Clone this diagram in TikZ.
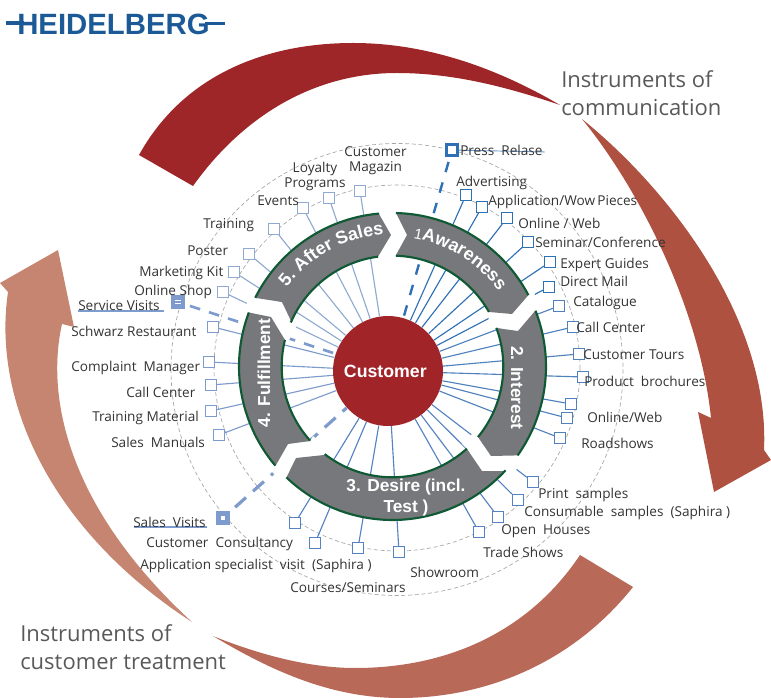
\documentclass[tikz,border=0pt]{standalone}
\usepackage{fontspec}
\setmainfont{Open Sans}
\newfontfamily\hvb{Liberation Sans}[BoldFont={Liberation Sans Bold}]
\usetikzlibrary{decorations.text}
\definecolor{logoblue}{HTML}{1B5A96}
\definecolor{arrA}{HTML}{9E2629}
\definecolor{arrB}{HTML}{AE5140}
\definecolor{arrC}{HTML}{B86957}
\definecolor{arrD}{HTML}{C58570}
\definecolor{ringgray}{HTML}{77787B}
\definecolor{ringgreen}{HTML}{0F5A34}
\definecolor{custred}{HTML}{A02428}
\definecolor{labc}{HTML}{333333}
\definecolor{headc}{HTML}{595959}
\definecolor{blA}{HTML}{2E70B4}
\definecolor{blB}{HTML}{4F81BD}
\definecolor{blC}{HTML}{5582C2}
\definecolor{blD}{HTML}{7D9BCC}
\definecolor{blE}{HTML}{8FAAD0}
\newcommand{\rp}[3]{plot[domain=#2:#3,samples=40,variable=\t] ({392.5+#1*cos(\t)},{366.5-#1*sin(\t)})}
\newcommand{\lrp}[3]{-- plot[domain=#2:#3,samples=40,variable=\t] ({392.5+#1*cos(\t)},{366.5-#1*sin(\t)})}
\tikzset{
 lab/.style={inner sep=0pt,anchor=west,text=labc,font=\fontsize{10.2}{11.25}\selectfont,text height=9pt,text depth=1pt},
 labm/.style={inner sep=0pt,text=labc,font=\fontsize{10.2}{11.25}\selectfont,align=center},
 head/.style={inner sep=0pt,anchor=west,text=headc,font=\fontsize{16.5}{20}\selectfont,text height=13.5pt,text depth=2pt},
 bx/.style={draw=#1,fill=white,line width=1.1pt,minimum size=8pt,inner sep=0pt,shape=rectangle},
 sp/.style={draw=#1,line width=0.85pt},
 dsh/.style={draw=#1,line width=2.4pt,dash pattern=on 11pt off 7pt,dash phase=13.5pt},
 dshb/.style={draw=#1,line width=2pt,dash pattern=on 8pt off 7pt,dash phase=11pt},
 dshc/.style={draw=#1,line width=1.8pt,dash pattern=on 8pt off 8pt,dash phase=12pt},
 guide/.style={draw=gray!70,line width=0.5pt,densely dashed},
 ringfill/.style={fill=ringgray},
 ringline/.style={draw=ringgreen,line width=1.6pt},
 gap/.style={fill=white},
 wlab/.style={inner sep=0pt,text=white,font=\hvb\bfseries\fontsize{13}{15.75}\selectfont,align=center},
}
\begin{document}
\begin{tikzpicture}[x=0.75pt,y=-0.75pt]
\useasboundingbox (0,0) rectangle (771,698);
% logo
\node[inner sep=0pt,text=logoblue,anchor=west] (logo) at (17,24) {\hvb\bfseries\fontsize{22}{22}\selectfont HEIDELBERG};
\fill[logoblue] (6,21.5) rectangle (24,25.5);
\fill[logoblue] (205,22) rectangle (225,25.5);
% big arrows
\fill[arrA] (139,155) .. controls (185,72) and (270,43) .. (353,43) .. controls (430,43) and (500,70) .. (560,105) .. controls (510,88) and (455,73) .. (397,73) .. controls (310,73) and (240,120) .. (193,186) -- cycle;
\fill[arrB] (582,119) .. controls (670,190) and (770,320) .. (764,450) -- (771,460) -- (714,492) -- (698,412) -- (711,418) .. controls (700,310) and (640,190) .. (582,119) -- cycle;
\fill[arrC] (213,636) .. controls (270,670) and (330,698) .. (400,698) .. controls (490,698) and (575,660) .. (633,587) -- (580,555) .. controls (530,630) and (450,668) .. (355,668) .. controls (310,668) and (260,655) .. (213,636) -- cycle;
\fill[arrD] (192,622) .. controls (50,530) and (-8,400) .. (8,292) -- (0,283) -- (58,250) -- (74,327) -- (62,324) .. controls (45,400) and (70,510) .. (192,622) -- cycle;
% guide circles
\draw[guide] (397,369.5) circle[radius=226];
\draw[guide] (397,368) circle[radius=183];
% centre
\node[circle,fill=custred,minimum size=82.5pt,inner sep=0pt,text=white,font=\hvb\bfseries\fontsize{13.3}{16}\selectfont] (cust) at (388,371) {\hspace*{-4pt}Customer};
% boxes: awareness
\node[bx=blA,line width=2.2pt,minimum size=8pt] (press) at (452,150) {};
\node[bx=blA] (a1) at (466,195) {};
\node[bx=blA] (a2) at (482,207) {};
\node[bx=blA] (a3) at (507,218) {};
\node[bx=blA] (a4) at (528,242) {};
\node[bx=blA] (a5) at (550,262) {};
\node[bx=blA] (a6) at (549,287) {};
% interest
\node[bx=blB] (i1) at (559,306) {};
\node[bx=blB] (i2) at (573,327) {};
\node[bx=blB] (i3) at (579,354) {};
\node[bx=blB] (i4) at (583,377) {};
\node[bx=blB] (i5) at (571,404) {};
\node[bx=blB] (i6) at (567,418) {};
\node[bx=blB] (i7) at (560,438) {};
% desire
\node[bx=blC] (d1) at (533,482) {};
\node[bx=blC] (d2) at (518,500) {};
\node[bx=blC] (d3) at (498,517) {};
\node[bx=blC] (d4) at (479,532) {};
\node[bx=blC] (d5) at (399,552) {};
\node[bx=blC] (d6) at (358,548) {};
\node[bx=blC] (d7) at (315,543) {};
\node[bx=blC] (d8) at (295,523) {};
\node[fill=blD,minimum size=11pt,inner sep=0pt] (sales) at (223,518) {};
% fulfillment
\node[bx=blD] (f1) at (219,435) {};
\node[bx=blD] (f2) at (211,411) {};
\node[bx=blD] (f3) at (211,385) {};
\node[bx=blD] (f4) at (209,362) {};
\node[bx=blD] (f5) at (213,327) {};
\node[fill=blD,minimum size=10pt,inner sep=0pt] (serv) at (178,302) {};
% after sales
\node[bx=blE] (s1) at (223,292) {};
\node[bx=blE] (s2) at (234,272) {};
\node[bx=blE] (s3) at (249,254) {};
\node[bx=blE] (s4) at (274,229) {};
\node[bx=blE] (s5) at (303,208) {};
\node[bx=blE] (s6) at (329,198) {};
\node[bx=blE] (s7) at (360,191) {};
% spokes
\foreach \b in {a1,a2,a3,a4,a5,a6} \draw[sp=blA] (cust) -- (\b);
\foreach \b in {i1,i2,i3,i4,i5,i6,i7} \draw[sp=blB] (cust) -- (\b);
\foreach \b in {d1,d2,d3,d4,d5,d6,d7,d8} \draw[sp=blC] (cust) -- (\b);
\foreach \b in {f1,f2,f3,f4,f5} \draw[sp=blD] (cust) -- (\b);
\foreach \b in {s1,s2,s3,s4,s5,s6,s7} \draw[sp=blE] (cust) -- (\b);
\draw[dshc=blA] (press) -- (cust);
\draw[dsh=blD] (sales) -- (cust);
\draw[dshb=blD] (serv) -- (cust);
% gaps
\fill[gap] (487,309) -- (512,314) -- (527,296) -- (534,290) -- (537,310) -- (518,331) -- (496,328) -- (490,327) -- cycle;
\fill[gap] (473,433) -- (478,437) -- (491,456) -- (517,455) -- (523,461) -- (512,475) -- (506,471) -- (482,471) -- (467,449) -- (462,444) -- cycle;
\fill[gap] (313,436) -- (310,441) -- (288,444) -- (276,465) -- (270,470) -- (282,482) -- (287,477) -- (296,458) -- (324,455) -- (328,449) -- cycle;
\fill[gap] (289,340) -- (285,340) -- (271,317) -- (250,313) -- (243,312) -- (250,296) -- (256,298) -- (282,302) -- (292,323) -- (297,325) -- cycle;
\fill[gap] (378,256) -- (391,235) -- (379,214) -- (378,208) -- (396,208) -- (396,213) -- (407,235) -- (396,255) -- (396,261) -- (379,261) -- cycle;
% ring segments
\fill[ringfill] (396,255) -- (407,235) -- (396,213) \lrp{153.5}{88.7}{27.7} -- (512,314) -- (489,312) \lrp{110.8}{29.5}{88.2} -- cycle;
\draw[ringline] \rp{153.5}{88.7}{27.7};
\draw[ringline] \rp{110.8}{29.5}{88.2};
\fill[ringfill] (496,328) -- (518,331) -- (535,311) \lrp{153.5}{21.3}{-35.4} -- (491,456) -- (478,437) \lrp{110.8}{-39.5}{20.4} -- cycle;
\draw[ringline] \rp{153.5}{21.3}{-35.4};
\draw[ringline] \rp{110.8}{-39.5}{20.4};
\fill[ringfill] (467,449) -- (482,471) -- (506,471) \lrp{153.5}{-42.6}{-133.7} -- (296,458) -- (324,455) \lrp{110.8}{-127.7}{-47.9} -- cycle;
\draw[ringline] \rp{153.5}{-42.6}{-133.7};
\draw[ringline] \rp{110.8}{-127.7}{-47.9};
\fill[ringfill] (310,441) -- (288,444) -- (276,465) \lrp{153.5}{220.2}{159.4} -- (271,317) -- (285,340) \lrp{110.8}{166.1}{222} -- cycle;
\draw[ringline] \rp{153.5}{220.2}{159.4};
\draw[ringline] \rp{110.8}{166.1}{222};
\fill[ringfill] (256,298) -- (282,302) -- (292,323) \lrp{110.8}{156.6}{97.5} -- (391,235) -- (379,214) \lrp{153.5}{95}{153.4} -- cycle;
\draw[ringline] \rp{110.8}{156.6}{97.5};
\draw[ringline] \rp{153.5}{95}{153.4};
% ring labels
\path[decorate,decoration={text along path,text align=center,text={|\hvb\bfseries\fontsize{13.5}{16}\selectfont\color{white}|5. After Sales}}] \rp{132}{165}{72};
\path[decorate,decoration={text along path,text align=center,text={|\hvb\fontsize{11}{13}\selectfont\color{white}|1|||\hvb\bfseries\fontsize{13.5}{16}\selectfont\color{white}|Awareness}}] \rp{130}{98}{18};
\node[wlab,rotate=-90] (t2) at (517,388) {2. Interest};
\node[wlab,rotate=90] (t4) at (264,373) {4. Fulfillment};
\node[wlab] (t3) at (406,498) {3. Desire (incl.\\Test )};
% marks inside the filled boxes
\node[fill=white,minimum size=3.5pt,inner sep=0pt] (salesdot) at (223,518) {};
\node[fill=white,minimum width=4pt,minimum height=1pt,inner sep=0pt] (servb) at (178,300.5) {};
\node[fill=white,minimum width=4pt,minimum height=1pt,inner sep=0pt] (servc) at (178,303.5) {};
% lines with labels
\coordinate (pe) at (545,152);
\draw[blA!70,line width=0.7pt] (press) -- (pe);
\coordinate (su1) at (78,311); \coordinate (su2) at (164,311);
\draw[blD,line width=1.3pt] (su1) -- (su2);
\coordinate (sa1) at (134,527); \coordinate (sa2) at (207,527);
\draw[blD,line width=1.3pt] (sa1) -- (sa2);
% labels
\node[lab] (tpress) at (460,150) {Press\ \ Relase};
\node[lab] (t01) at (456,181) {Advertising};
\node[lab] (t02) at (488,200) {Application/Wow\,Pieces};
\node[lab] (t03) at (518,223) {Online / Web};
\node[lab] (t04) at (535,242) {Seminar/Conference};
\node[lab] (t05) at (560,263) {Expert Guides};
\node[lab] (t06) at (560,281) {Direct Mail};
\node[lab] (t07) at (573,301) {Catalogue};
\node[lab] (t08) at (576,327) {Call Center};
\node[lab] (t09) at (583,354) {Customer Tours};
\node[lab] (t10) at (584,381) {Product\ \ brochures};
\node[lab] (t11) at (587,417) {Online/Web};
\node[lab] (t12) at (581,443) {Roadshows};
\node[lab] (t13) at (538,493) {Print\ \ samples};
\node[lab] (t14) at (524,511) {Consumable\ \ samples\ \ (Saphira )};
\node[lab] (t15) at (501,529) {Open\ \ Houses};
\node[lab] (t16) at (483,552) {Trade Shows};
\node[lab] (t17) at (410,572) {Showroom};
\node[lab] (t18) at (290,587) {Courses/Seminars};
\node[lab] (t19) at (140,564) {Application specialist\ \ visit\ \ (Saphira )};
\node[lab] (t20) at (146,542) {Customer\ \ Consultancy};
\node[lab] (t21) at (133,522) {Sales\ \ Visits};
\node[lab] (t22) at (111,442) {Sales\ \ Manuals};
\node[lab] (t23) at (92,416) {Training Material};
\node[lab] (t24) at (126,392) {Call Center};
\node[lab] (t25) at (71,366) {Complaint\ \ Manager};
\node[lab] (t26) at (71,331) {Schwarz Restaurant};
\node[lab] (t27) at (78,305) {Service Visits};
\node[lab] (t28) at (134,290) {Online Shop};
\node[lab] (t29) at (139,271) {Marketing Kit};
\node[lab] (t30) at (187,250) {Poster};
\node[lab] (t31) at (203,223) {Training};
\node[lab] (t32) at (257,200) {Events};
\node[labm] (t33) at (315,176) {Loyalty\\Programs};
\node[labm] (t34) at (375.5,161) {Customer\\Magazin};
% headings
\node[head] (h1) at (561,80) {Instruments of};
\node[head] (h2) at (561,108) {communication};
\node[head] (h3) at (20,634) {Instruments of};
\node[head] (h4) at (20,662) {customer treatment};
\end{tikzpicture}
\end{document}
